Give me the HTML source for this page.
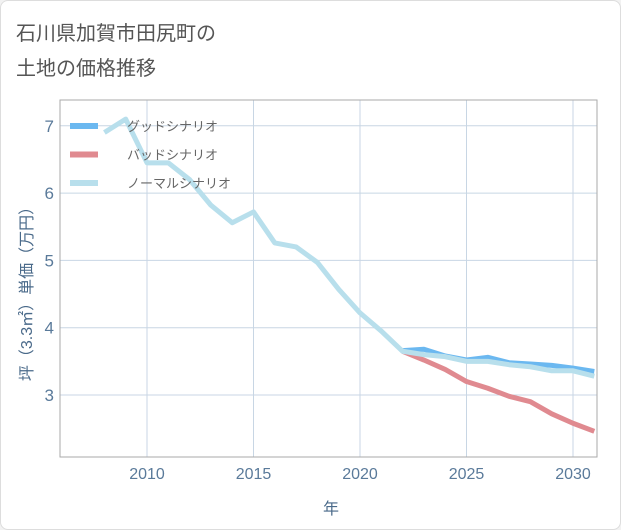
<!DOCTYPE html>
<html><head><meta charset="utf-8"><style>
body{margin:0;background:#f2f2f2;font-family:"Liberation Sans","Noto Sans CJK JP",sans-serif;}
#card{position:absolute;left:0;top:0;width:619px;height:528px;background:#fff;border:1px solid #ddd;border-radius:8px;}
</style></head><body>
<div id="card">
<svg id="chart" width="621" height="530" style="position:absolute;left:-1px;top:-1px">
<text x="16" y="40" font-size="20" fill="#555">石川県加賀市田尻町の</text>
<text x="16" y="75" font-size="20" fill="#555">土地の価格推移</text>
<g id="grid"></g>
<rect x="60" y="100" width="537" height="357" fill="none" stroke="#aaa" stroke-width="1"/>
<g id="series"></g>
<g id="legend"></g>
<text x="0" y="0" transform="translate(32,290) rotate(-90)" text-anchor="middle" font-size="16" fill="#4a6a8a">坪（3.3㎡）単価（万円）</text>
<text x="331" y="514" text-anchor="middle" font-size="16" fill="#4a6a8a">年</text>
</svg></div>
<script>
const years=[2008,2009,2010,2011,2012,2013,2014,2015,2016,2017,2018,2019,2020,2021,2022,2023,2024,2025,2026,2027,2028,2029,2030,2031];
const normal=[6.9,7.1,6.45,6.45,6.2,5.82,5.56,5.72,5.26,5.2,4.97,4.57,4.22,3.95,3.65,3.6,3.57,3.5,3.5,3.45,3.42,3.36,3.36,3.28];
const futureYears=[2022,2023,2024,2025,2026,2027,2028,2029,2030,2031];
const good=[3.66,3.68,3.58,3.52,3.56,3.48,3.46,3.44,3.4,3.35];
const bad=[3.65,3.52,3.38,3.2,3.1,2.98,2.9,2.72,2.58,2.46];
const xTicks=[2010,2015,2020,2025,2030];
const yTicks=[3,4,5,6,7];
const X=y=>147+(y-2010)*21.3;
const Y=v=>395-(v-3)*67.3;
const NS="http://www.w3.org/2000/svg";
const svg=document.getElementById('chart');
const grid=document.getElementById('grid'),ser=document.getElementById('series'),leg=document.getElementById('legend');
function mk(t,a,p){const e=document.createElementNS(NS,t);for(const k in a)e.setAttribute(k,a[k]);p.appendChild(e);return e;}
xTicks.forEach(t=>{
 const l=mk('line',{x1:X(t),x2:X(t),y1:100,y2:457,stroke:'#c8d6e4','stroke-width':1},grid);
 
 
 const tx=mk('text',{x:X(t),y:479,'text-anchor':'middle','font-size':16,fill:'#5a7a9a'},grid);tx.textContent=t;
 
 
});
yTicks.forEach(t=>{
 const l=mk('line',{x1:60,x2:597,y1:Y(t),y2:Y(t),stroke:'#c8d6e4','stroke-width':1},grid);
 
 
 const tx=mk('text',{x:54,y:Y(t)+6,'text-anchor':'end','font-size':17,fill:'#5a7a9a'},grid);tx.textContent=t;
 
 
});
function line(xs,vs,c,name){
 const d=xs.map((y,i)=>(i?'L':'M')+X(y)+','+Y(vs[i])).join(' ');
 const p=mk('path',{d:d,fill:'none',stroke:c,'stroke-width':5,'stroke-linejoin':'round'},ser);
 
 
}
const cp=mk('clipPath',{id:'cp'},svg);mk('rect',{x:60,y:100,width:537,height:357},cp);
ser.setAttribute('clip-path','url(#cp)');
line(futureYears,bad,'#e08a90','bad-scenario-line');
line(futureYears,good,'#6bb8f0','good-scenario-line');
line(years,normal,'#b8dfec','normal-scenario-line');
[['グッドシナリオ','#6bb8f0'],['バッドシナリオ','#e08a90'],['ノーマルシナリオ','#b8dfec']].forEach((e,i)=>{
 const y=126+i*28.5;
 const r=mk('line',{x1:70,x2:98,y1:y,y2:y,stroke:e[1],'stroke-width':6},leg);
 
 
 const t=mk('text',{x:127,y:y+5,'font-size':13,fill:'#666'},leg);t.textContent=e[0];
 
 
});
</script></body></html>
